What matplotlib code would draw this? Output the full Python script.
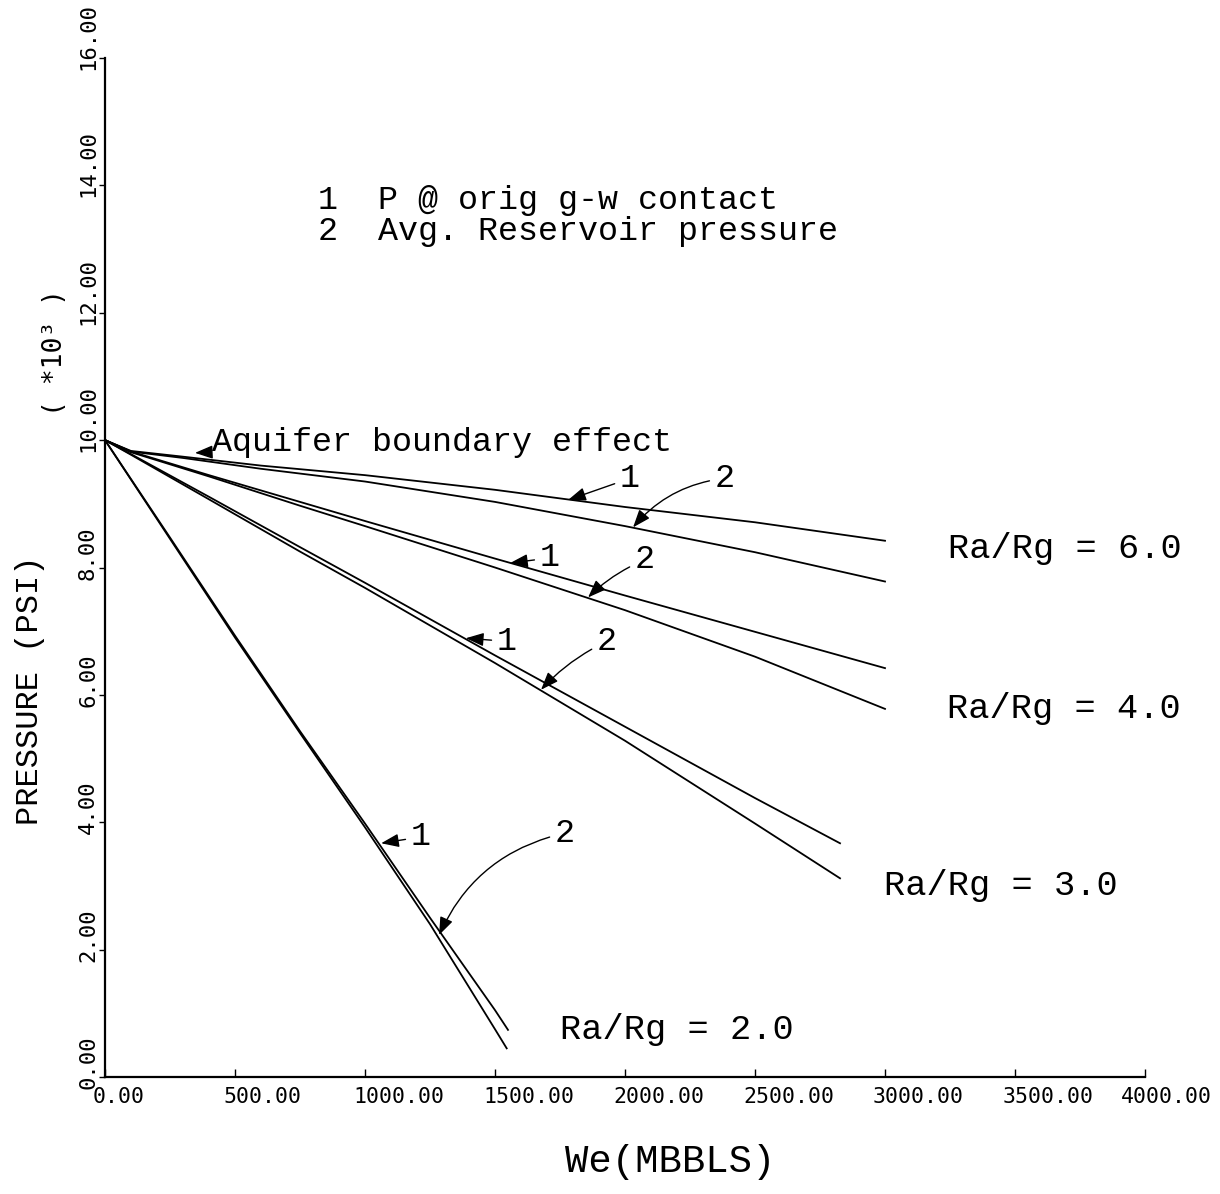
import matplotlib
matplotlib.use("Agg")
import matplotlib.pyplot as plt
from matplotlib.transforms import ScaledTranslation

# ---------------- data ----------------
x_ratio6 = [0, 100, 300, 600, 1000, 1500, 2000, 2500, 3000]
p1_ratio6 = [10.0, 9.83, 9.74, 9.60, 9.45, 9.22, 8.95, 8.71, 8.42]
p2_ratio6 = [10.0, 9.82, 9.72, 9.55, 9.35, 9.03, 8.65, 8.24, 7.78]

x_ratio4 = [0, 100, 400, 750, 1000, 1500, 2000, 2500, 3000]
p1_ratio4 = [10.0, 9.82, 9.45, 9.03, 8.73, 8.14, 7.56, 6.99, 6.42]
p2_ratio4 = [10.0, 9.81, 9.43, 8.97, 8.65, 8.00, 7.33, 6.60, 5.78]

x_ratio3 = [0, 100, 400, 750, 1000, 1500, 2000, 2500, 2827]
p1_ratio3 = [10.0, 9.78, 9.11, 8.32, 7.76, 6.62, 5.50, 4.38, 3.67]
p2_ratio3 = [10.0, 9.77, 9.07, 8.25, 7.68, 6.50, 5.28, 3.98, 3.12]

x1_ratio2 = [0, 250, 500, 750, 1000, 1250, 1500, 1550]
p1_ratio2 = [10.0, 8.47, 6.93, 5.43, 3.98, 2.50, 1.05, 0.74]
x2_ratio2 = [0, 250, 500, 750, 1000, 1250, 1500, 1545]
p2_ratio2 = [10.0, 8.45, 6.90, 5.40, 3.92, 2.40, 0.75, 0.45]

x_ticks = [0, 500, 1000, 1500, 2000, 2500, 3000, 3500, 4000]
x_tick_labels = ["0.00", "500.00", "1000.00", "1500.00", "2000.00",
                 "2500.00", "3000.00", "3500.00", "4000.00"]
y_ticks = [0, 2, 4, 6, 8, 10, 12, 14, 16]
y_tick_labels = ["0.00", "2.00", "4.00", "6.00", "8.00",
                 "10.00", "12.00", "14.00", "16.00"]

# ---------------- figure ----------------
W, H = 1220, 1194
fig = plt.figure(figsize=(W / 100, H / 100), dpi=100)
ax = fig.add_axes([105 / W, 1 - 1077 / H, 1040 / W, 1019 / H])
ax.set_xlim(0, 4000)
ax.set_ylim(0, 16)

for s in ("top", "right"):
    ax.spines[s].set_visible(False)
for s in ("left", "bottom"):
    ax.spines[s].set_linewidth(1.6)

mono = "Liberation Mono"
plot_font = "DejaVu Sans Mono"

lw = 1.3
ax.plot(x_ratio6, p1_ratio6, color="black", lw=lw)
ax.plot(x_ratio6, p2_ratio6, color="black", lw=lw)
ax.plot(x_ratio4, p1_ratio4, color="black", lw=lw)
ax.plot(x_ratio4, p2_ratio4, color="black", lw=lw)
ax.plot(x_ratio3, p1_ratio3, color="black", lw=lw)
ax.plot(x_ratio3, p2_ratio3, color="black", lw=lw)
ax.plot(x1_ratio2, p1_ratio2, color="black", lw=lw)
ax.plot(x2_ratio2, p2_ratio2, color="black", lw=lw)

# ticks (labels drawn like the plotter: starting just before each tick)
ax.set_xticks(x_ticks)
ax.set_xticklabels([])
ax.tick_params(axis="x", direction="in", length=6, width=1)
ax.set_yticks(y_ticks)
ax.set_yticklabels([])
ax.tick_params(axis="y", direction="out", length=4, width=1)

for i, (xv, lab) in enumerate(zip(x_ticks, x_tick_labels)):
    dx = -0.24 if i == len(x_ticks) - 1 else -0.12
    xtrans = ax.get_xaxis_transform() + ScaledTranslation(dx, -0.20, fig.dpi_scale_trans)
    ax.text(xv, 0, lab, transform=xtrans, ha="left", va="center",
            fontfamily=plot_font, fontsize=15.5)

ytrans = ax.get_yaxis_transform() + ScaledTranslation(-0.17, -0.12, fig.dpi_scale_trans)
for yv, lab in zip(y_ticks, y_tick_labels):
    ax.text(0, yv, lab, transform=ytrans, rotation=90, rotation_mode="anchor",
            ha="left", va="center", fontfamily=plot_font, fontsize=16)

# axis titles
fig.text(30 / W, 1 - 690 / H, "PRESSURE (PSI)", rotation=90, ha="center",
         va="center", fontfamily=mono, fontsize=23)
fig.text(55 / W, 1 - 352 / H, "( *10³ )", rotation=90, ha="center",
         va="center", fontfamily=plot_font, fontsize=19)
fig.text(670 / W, 1 - 1162 / H, "We(MBBLS)", ha="center", va="center",
         fontfamily=mono, fontsize=28)

# legend-like text
fs = 24
ax.text(819, 13.77, "1  P @ orig g-w contact", fontfamily=mono, fontsize=fs,
        ha="left", va="center")
ax.text(819, 13.27, "2  Avg. Reservoir pressure", fontfamily=mono, fontsize=fs,
        ha="left", va="center")

# ratio labels
fr = 25.5
ax.text(3242, 8.30, "Ra/Rg = 6.0", fontfamily=mono, fontsize=fr, ha="left", va="center")
ax.text(3238, 5.79, "Ra/Rg = 4.0", fontfamily=mono, fontsize=fr, ha="left", va="center")
ax.text(2996, 3.00, "Ra/Rg = 3.0", fontfamily=mono, fontsize=fr, ha="left", va="center")
ax.text(1750, 0.74, "Ra/Rg = 2.0", fontfamily=mono, fontsize=fr, ha="left", va="center")

arrow = dict(arrowstyle="-|>,head_length=0.45,head_width=0.17", color="black",
             lw=1.0, shrinkA=2, shrinkB=0)

ax.annotate("Aquifer boundary effect", xy=(346, 9.80), xytext=(412, 9.97),
            fontfamily=mono, fontsize=fs, ha="left", va="center",
            arrowprops=dict(arrow, connectionstyle="arc3,rad=0"))

labels = [
    ("1", (1781, 9.06), (1981, 9.40), 0.0),
    ("2", (2031, 8.63), (2346, 9.40), 0.2),
    ("1", (1558, 8.07), (1673, 8.15), 0.0),
    ("2", (1858, 7.53), (2038, 8.12), 0.1),
    ("1", (1388, 6.89), (1508, 6.84), 0.0),
    ("2", (1677, 6.08), (1892, 6.84), 0.1),
    ("1", (1062, 3.67), (1177, 3.77), 0.0),
    ("2", (1285, 2.23), (1731, 3.83), 0.25),
]
for txt, tip, pos, rad in labels:
    ax.annotate(txt, xy=tip, xytext=pos, fontfamily=mono, fontsize=fs,
                ha="left", va="center",
                arrowprops=dict(arrow, connectionstyle=f"arc3,rad={rad}"))

fig.savefig("out.png", dpi=100, facecolor="white")
